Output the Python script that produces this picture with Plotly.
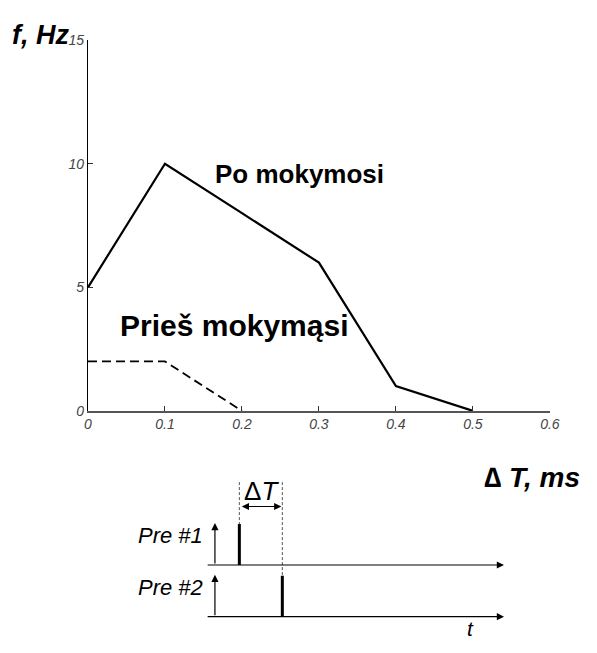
import plotly.graph_objects as go

# Firing frequency versus inter-spike interval, before and after training
dt_after = [0.0, 0.1, 0.2, 0.3, 0.4, 0.5]
f_after = [5, 10, 8, 6, 1, 0]
dt_before = [0.0, 0.1, 0.2]
f_before = [2, 2, 0]

x_ticks = [0, 0.1, 0.2, 0.3, 0.4, 0.5, 0.6]
x_tick_text = ["0", "0.1", "0.2", "0.3", "0.4", "0.5", "0.6"]
y_ticks = [0, 5, 10, 15]
y_tick_text = ["0", "5", "10", "15"]

W, H = 597, 653
FONT = "Liberation Sans, Arial, sans-serif"

fig = go.Figure()
fig.add_trace(go.Scatter(x=dt_after, y=f_after, mode="lines",
                         line=dict(color="black", width=2.2), showlegend=False,
                         xaxis="x", yaxis="y"))
fig.add_trace(go.Scatter(x=dt_before, y=f_before, mode="lines",
                         line=dict(color="black", width=1.8, dash="9px,5px"),
                         showlegend=False, xaxis="x", yaxis="y"))

tickfont = dict(family=FONT, size=14, color="#444", style="italic")

# Timing diagram drawn on an overlay axis in pixel units
shapes = []
annotations = []

def line(x0, y0, x1, y1, width=1, color="black", dash=None):
    shapes.append(dict(type="line", xref="x2", yref="y2", x0=x0, y0=y0, x1=x1, y1=y1,
                       line=dict(color=color, width=width, dash=dash)))

def arrow(x0, y0, x1, y1, side="end"):
    annotations.append(dict(xref="x2", yref="y2", axref="x2", ayref="y2",
                            x=x1, y=y1, ax=x0, ay=y0, text="", showarrow=True,
                            arrowhead=2, arrowsize=1.2, arrowwidth=1.2,
                            arrowcolor="black", arrowside=side))

# time axes of the two presynaptic trains
rows = [("Pre #1", 571, 241), ("Pre #2", 624, 285)]
for label, base, spike_x in rows:
    arrow(207, base, 512, base)
    arrow(216, base, 216, base - 43)
    line(spike_x, base, spike_x, base - 42, width=3)
    annotations.append(dict(xref="x2", yref="y2", x=206, y=base - 30, text=label,
                            showarrow=False, xanchor="right", yanchor="middle",
                            font=dict(family=FONT, size=22, color="black", style="italic")))

line(241, 486, 241, 529, width=1, color="#555", dash="3px,2px")
line(285, 486, 285, 582, width=1, color="#555", dash="3px,2px")
arrow(242, 511, 284, 511, side="end+start")
annotations.append(dict(xref="x2", yref="y2", x=264, y=495, text="Δ<i>T</i>", showarrow=False,
                        xanchor="center", yanchor="middle",
                        font=dict(family=FONT, size=26, color="black")))
annotations.append(dict(xref="x2", yref="y2", x=478, y=636, text="t", showarrow=False,
                        xanchor="center", yanchor="middle",
                        font=dict(family=FONT, size=21, color="black", style="italic")))

# axis titles and curve labels
annotations += [
    dict(xref="x2", yref="y2", x=6, y=28, text="<b><i>f, Hz</i></b>", showarrow=False,
         xanchor="left", yanchor="middle", font=dict(family=FONT, size=27, color="black")),
    dict(xref="x2", yref="y2", x=592, y=481, text="<b>∆<i> T, ms</i></b>", showarrow=False,
         xanchor="right", yanchor="middle", font=dict(family=FONT, size=28, color="black")),
    dict(xref="x", yref="y", x=0.275, y=9.6, text="<b>Po mokymosi</b>", showarrow=False,
         xanchor="center", yanchor="middle", font=dict(family=FONT, size=26, color="black")),
    dict(xref="x", yref="y", x=0.19, y=3.45, text="<b>Prieš mokymąsi</b>", showarrow=False,
         xanchor="center", yanchor="middle", font=dict(family=FONT, size=30, color="black")),
]

x0p, x1p = 86, 559
y0p, y1p = 413, 33
fig.update_layout(
    width=W, height=H, margin=dict(l=0, r=0, t=0, b=0),
    paper_bgcolor="white", plot_bgcolor="rgba(0,0,0,0)",
    xaxis=dict(domain=[x0p / W, x1p / W], range=[0, 0.6], anchor="y",
               tickvals=x_ticks, ticktext=x_tick_text, ticks="inside", ticklen=5,
               tickcolor="#333", showline=True, linecolor="#555", linewidth=1.5,
               showgrid=False, zeroline=False, tickfont=tickfont),
    yaxis=dict(domain=[1 - y0p / H, 1 - y1p / H], range=[0, 15], anchor="x",
               tickvals=y_ticks, ticktext=y_tick_text, ticks="inside", ticklen=5,
               tickcolor="#333", showline=True, linecolor="black", linewidth=1.2,
               showgrid=False, zeroline=False, tickfont=tickfont),
    xaxis2=dict(domain=[0, 1], range=[0, W], anchor="y2", visible=False, fixedrange=True),
    yaxis2=dict(domain=[0, 1], range=[H, 0], anchor="x2", visible=False, fixedrange=True),
    shapes=shapes, annotations=annotations,
)

fig.write_html("out.html")
